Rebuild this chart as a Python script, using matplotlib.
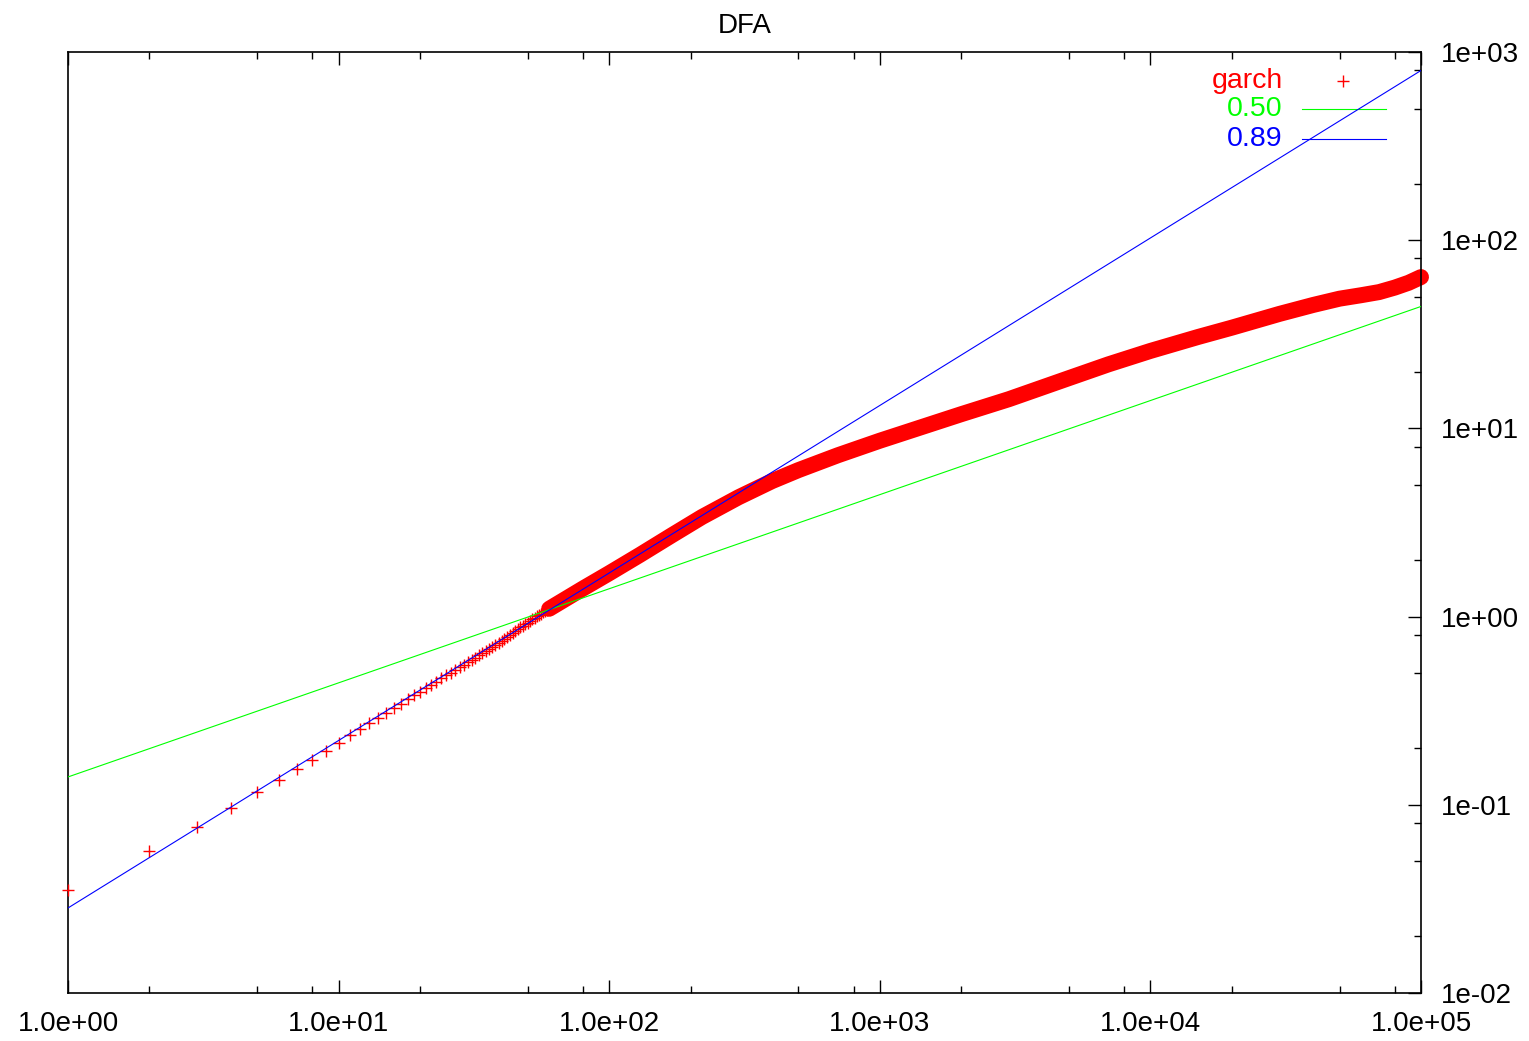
import numpy as np
import matplotlib
matplotlib.use("Agg")
import matplotlib.pyplot as plt
from matplotlib.ticker import LogLocator, FixedLocator, FuncFormatter, NullFormatter

plt.rcParams['font.family'] = ['Liberation Sans', 'DejaVu Sans']

# =========================
# 1. Data
# =========================
# separate markers (window sizes n = 1..60)
n_small = np.arange(1, 61)
F_small = [0.0352, 0.0569, 0.0762, 0.0962, 0.117, 0.1355, 0.155, 0.173, 0.193,
           0.214, 0.234, 0.253, 0.272, 0.290, 0.309, 0.327, 0.345, 0.363, 0.381,
           0.399, 0.417, 0.434, 0.452, 0.469, 0.487, 0.504, 0.521, 0.538, 0.555,
           0.572, 0.589, 0.606, 0.623, 0.640, 0.656, 0.673, 0.690, 0.706, 0.723,
           0.745, 0.764, 0.783, 0.802, 0.821, 0.840, 0.858, 0.876, 0.894, 0.912,
           0.930, 0.948, 0.966, 0.984, 1.002, 1.020, 1.037, 1.054, 1.071, 1.087,
           1.100]

# dense part (markers overlap into a band)
n_dense = [60, 80, 100, 130, 170, 220, 300, 400, 500, 700, 1000, 1500,
           2000, 3000, 5000, 7000, 10000, 15000, 20000, 30000, 40000, 50000,
           60000, 70000, 80000, 90000, 100000]
F_dense = [1.100, 1.41, 1.70, 2.13, 2.70, 3.38, 4.30, 5.25, 6.00, 7.20,
           8.6, 10.4, 11.9, 14.3, 18.5, 21.9, 25.8, 30.6, 34.3, 40.6, 45.3,
           48.9, 51.0, 53.0, 56.0, 59.4, 63.7]

# fitted power laws  F(n) = c * n^alpha
alphas = [0.50, 0.89]
coefs = [0.1406, 0.0283]
fit_colors = ['#00ff00', '#0000ff']
fit_labels = ['0.50', '0.89']

x_ticks = [1e0, 1e1, 1e2, 1e3, 1e4, 1e5]
y_ticks = [1e-2, 1e-1, 1e0, 1e1, 1e2, 1e3]

# =========================
# 2. Figure
# =========================
fig = plt.figure(figsize=(15.29, 10.41), dpi=100)
ax = fig.add_axes([68 / 1529, 1 - 993 / 1041, 1353 / 1529, 941 / 1041])
ax.set_xscale('log')
ax.set_yscale('log')
ax.set_xlim(1, 1e5)
ax.set_ylim(1e-2, 1e3)

ax.plot(n_dense, F_dense, color='red', lw=11.5, solid_capstyle='round',
        solid_joinstyle='round', clip_on=False, zorder=2)
ax.plot(n_small, F_small, ls='none', marker='+', ms=8.5, mew=1.0,
        color='red', clip_on=False, zorder=3)

xx = np.array([1.0, 1e5])
for a, c, col in zip(alphas, coefs, fit_colors):
    ax.plot(xx, c * xx ** a, color=col, lw=0.8, zorder=4)

# =========================
# 3. Axes style (gnuplot look)
# =========================
for s in ax.spines.values():
    s.set_linewidth(1.2)

ax.xaxis.set_major_locator(FixedLocator(x_ticks))
ax.xaxis.set_minor_locator(LogLocator(base=10, subs=[2, 5, 8]))
ax.xaxis.set_major_formatter(FuncFormatter(lambda v, p: f"{v:.1e}"))
ax.xaxis.set_minor_formatter(NullFormatter())
ax.yaxis.set_major_locator(FixedLocator(y_ticks))
ax.yaxis.set_minor_locator(LogLocator(base=10, subs=[2, 5, 8]))
ax.yaxis.set_major_formatter(FuncFormatter(lambda v, p: f"{v:.0e}"))
ax.yaxis.set_minor_formatter(NullFormatter())

ax.tick_params(which='both', direction='in', top=True, bottom=True,
               left=False, right=True, labelleft=False, labelright=True,
               width=1.0, colors='black', labelsize=20)
ax.tick_params(which='major', length=9.5)
ax.tick_params(which='minor', length=5)
ax.tick_params(axis='x', which='major', pad=13)
ax.tick_params(axis='y', which='major', pad=14)

ax.set_title('DFA', fontsize=20, pad=14)

# =========================
# 4. Legend (right aligned text, like gnuplot)
# =========================
leg_y = [0.969, 0.939, 0.9075]
ax.text(0.898, leg_y[0], 'garch', color='red', fontsize=20.5, ha='right',
        va='center', transform=ax.transAxes)
ax.plot([0.942], [leg_y[0]], ls='none', marker='+', ms=8.5, mew=1.0,
        color='red', transform=ax.transAxes)
for i in range(2):
    ax.text(0.898, leg_y[i + 1], fit_labels[i], color=fit_colors[i],
            fontsize=20.5, ha='right', va='center', transform=ax.transAxes)
    ax.plot([0.912, 0.974], [leg_y[i + 1]] * 2, color=fit_colors[i], lw=0.8,
            transform=ax.transAxes)

fig.savefig('out.png', dpi=100)
